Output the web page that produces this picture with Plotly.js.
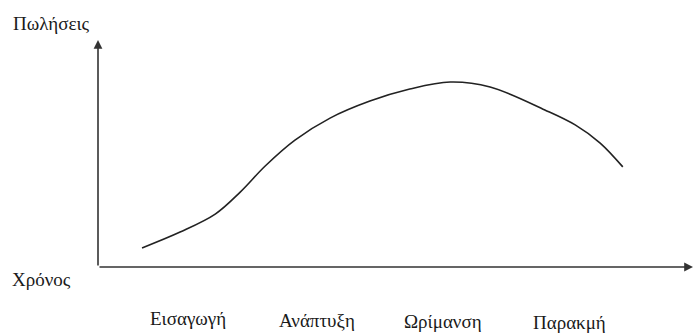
<!DOCTYPE html>
<html>
<head>
<meta charset="utf-8">
<script src="https://cdn.plot.ly/plotly-3.0.1.min.js"></script>
<style>html,body{margin:0;padding:0;background:#fff}#chart{width:695px;height:335px}</style>
</head>
<body>
<div id="chart"></div>
<script>
// Product life cycle curve (arbitrary units)
const timeValues  = [7.4, 13.8, 19.7, 23.9, 28.1, 33.1, 39.0, 45.7, 52.4, 59.2, 65.9, 75.1, 80.2, 84.4, 88.2];
const salesValues = [8.4, 15.4, 23.3, 33.0, 44.5, 55.9, 65.6, 73.1, 78.4, 81.5, 79.3, 69.2, 62.6, 54.6, 44.1];
const stageLabels = ["Εισαγωγή", "Ανάπτυξη", "Ωρίμανση", "Παρακμή"];
const stageCenters = [15.1, 36.8, 58.0, 79.3];
const yAxisLabel = "Πωλήσεις";
const xAxisLabel = "Χρόνος";

// layout constants (pixel placement of text, converted below)
const stageLabelY = [318, 320, 321, 322];
const fontFam = "Liberation Serif, Times New Roman, serif";
const txtColor = "#1a1a1a";
const fsize = 19;

function px2paperX(px) { return (px - 98) / 595; }
function px2paperY(py) { return (267 - py) / 227; }

const annotations = [
  {x: 100, y: 0, ax: 0, ay: 0, xref: 'x', yref: 'y', axref: 'x', ayref: 'y',
   text: '', showarrow: true, arrowhead: 2, arrowsize: 1.1, arrowwidth: 1.6, arrowcolor: '#333'},
  {x: 0, y: 100, ax: 0, ay: 0, xref: 'x', yref: 'y', axref: 'x', ayref: 'y',
   text: '', showarrow: true, arrowhead: 2, arrowsize: 1.1, arrowwidth: 1.6, arrowcolor: '#333'},
  {x: px2paperX(11), y: px2paperY(24), xref: 'paper', yref: 'paper', text: yAxisLabel, showarrow: false,
   xanchor: 'left', yanchor: 'middle', font: {family: fontFam, size: fsize, color: txtColor}},
  {x: px2paperX(10), y: px2paperY(279), xref: 'paper', yref: 'paper', text: xAxisLabel, showarrow: false,
   xanchor: 'left', yanchor: 'middle', font: {family: fontFam, size: fsize, color: txtColor}}
];
stageLabels.forEach((lab, i) => {
  annotations.push({x: stageCenters[i], y: px2paperY(stageLabelY[i]), xref: 'x', yref: 'paper',
    text: lab, showarrow: false, xanchor: 'center', yanchor: 'middle',
    font: {family: fontFam, size: fsize, color: txtColor}});
});

const trace = {
  x: timeValues, y: salesValues, type: 'scatter', mode: 'lines',
  line: {shape: 'spline', smoothing: 1, color: '#222', width: 1.6},
  hoverinfo: 'none'
};

const layout = {
  width: 695, height: 335,
  margin: {l: 98, r: 2, t: 40, b: 68, pad: 0},
  paper_bgcolor: '#fff', plot_bgcolor: '#fff',
  showlegend: false,
  xaxis: {range: [0, 100], visible: false, fixedrange: true},
  yaxis: {range: [0, 100], visible: false, fixedrange: true},
  annotations: annotations
};

Plotly.newPlot('chart', [trace], layout, {staticPlot: true, displayModeBar: false});
</script>
</body>
</html>
